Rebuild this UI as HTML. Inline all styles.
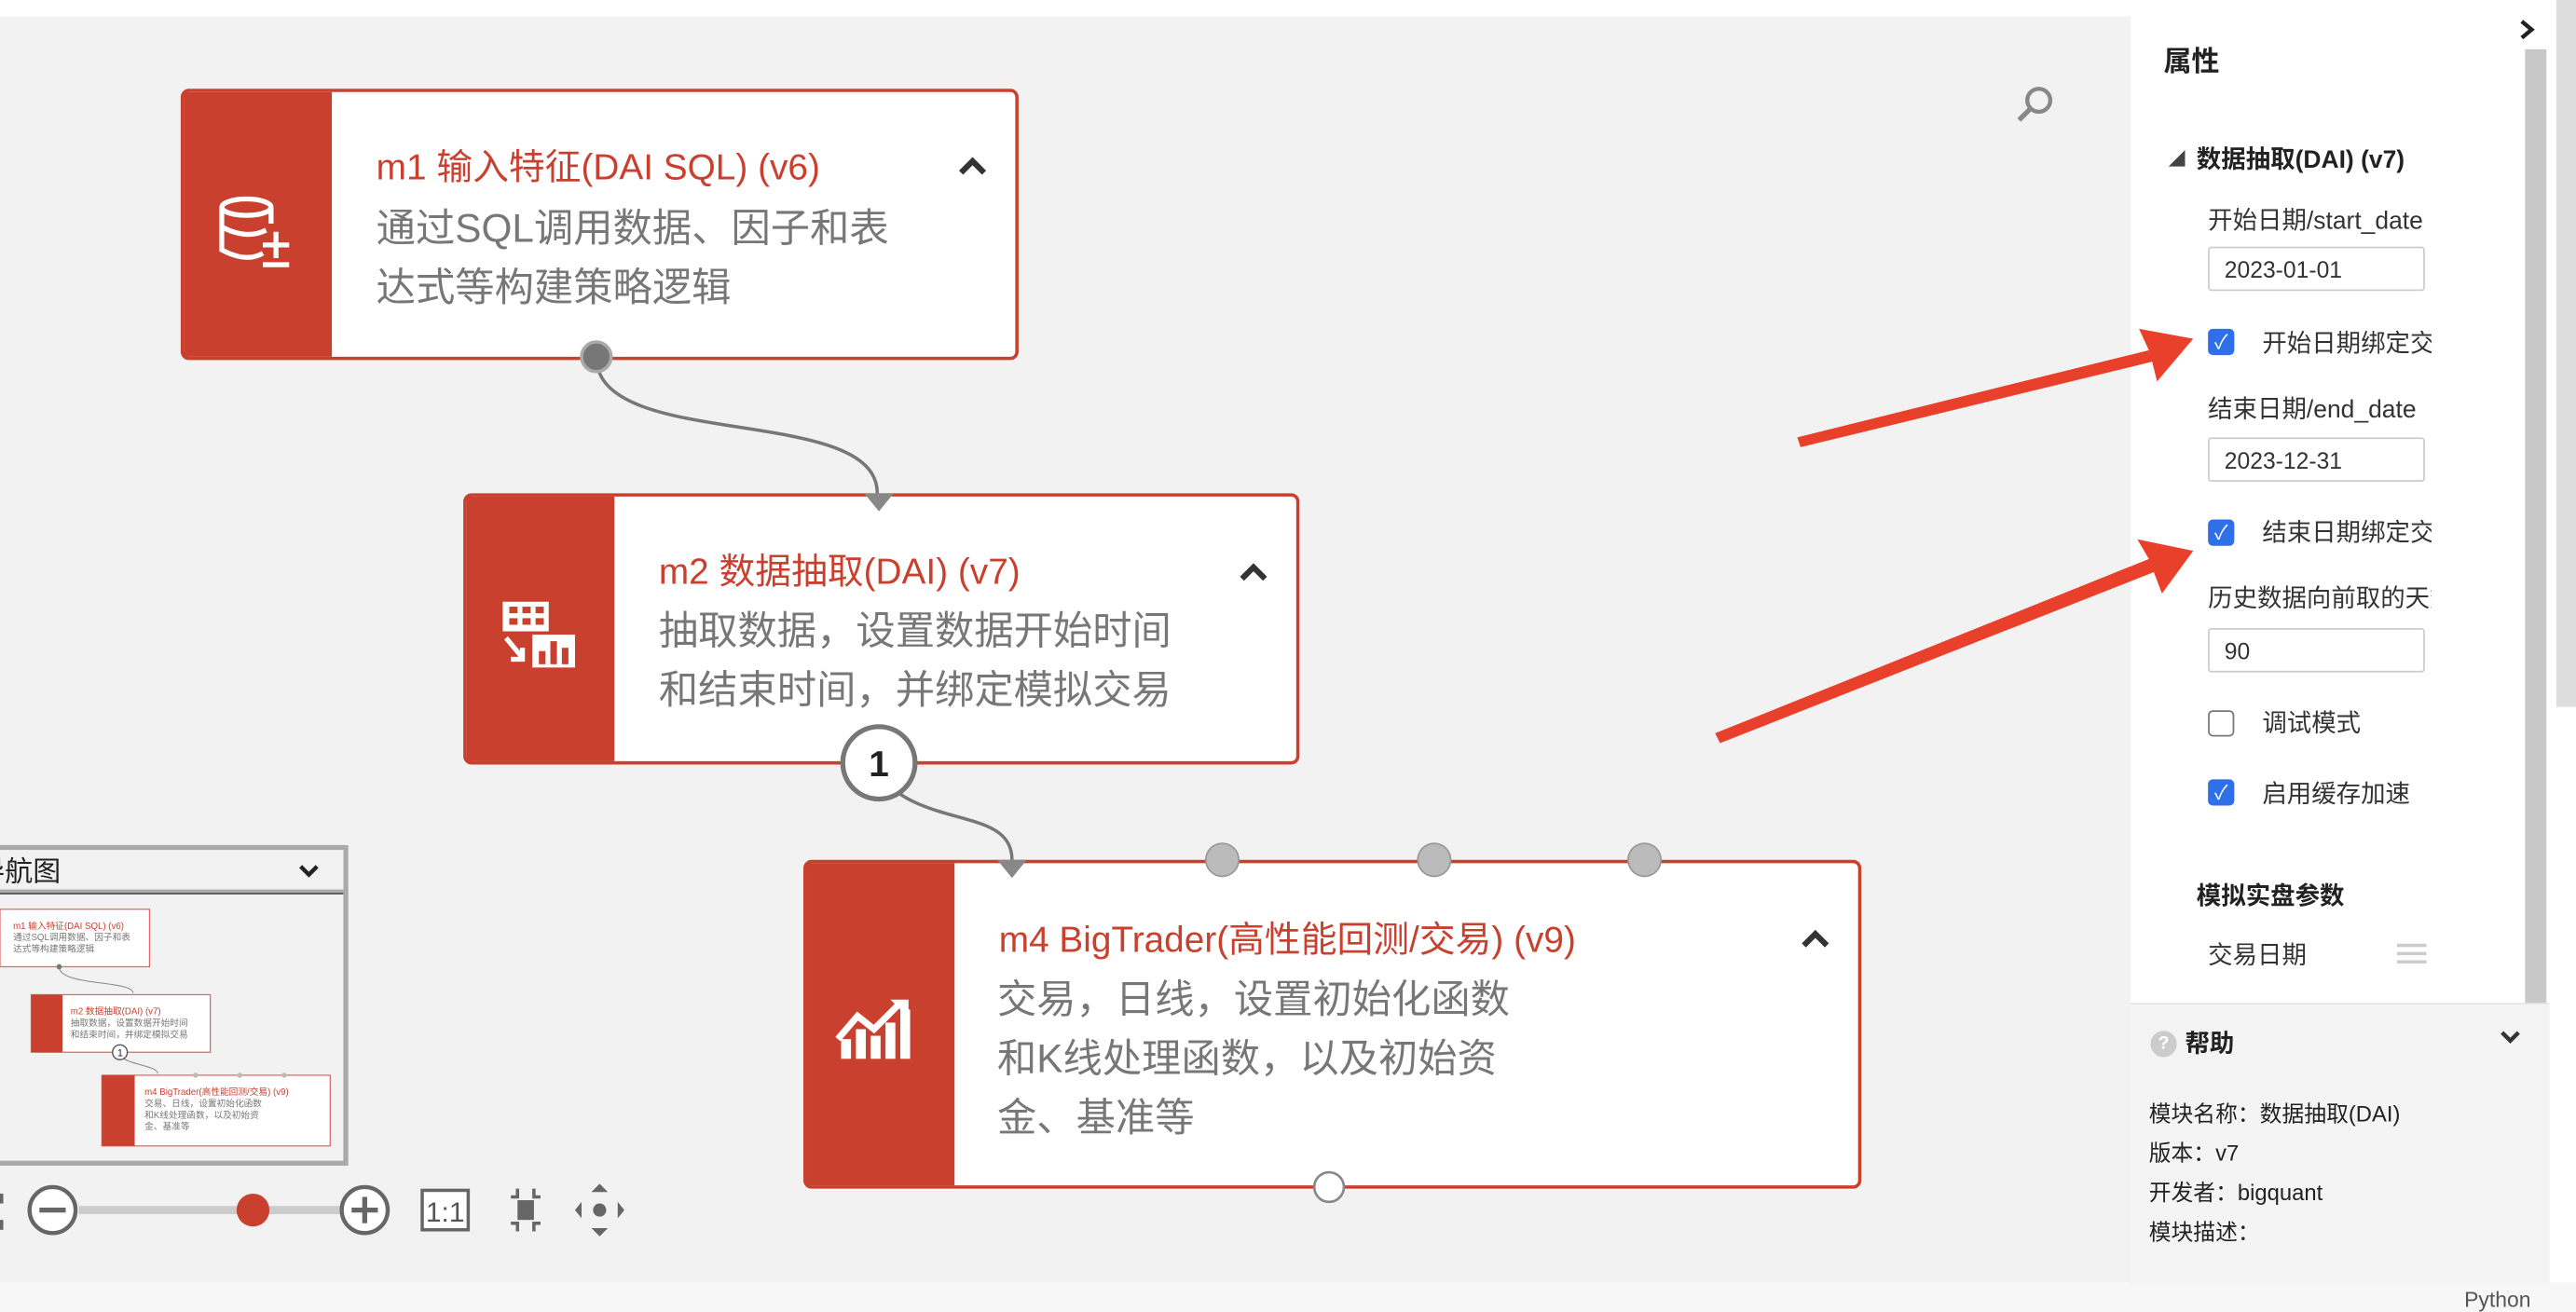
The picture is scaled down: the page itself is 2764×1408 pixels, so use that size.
<!DOCTYPE html>
<html><head><meta charset="utf-8">
<style>
html,body{margin:0;padding:0;width:2764px;height:1408px;overflow:hidden;background:#fff;}
#w{position:absolute;left:0;top:0;width:1568px;height:798px;transform:scale(1.76276,1.76441);transform-origin:0 0;font-family:"Liberation Sans","Noto Sans CJK SC",sans-serif;}
.a{position:absolute;white-space:nowrap;}
.node{position:absolute;background:#fff;border:2.5px solid #c9402f;border-radius:5px;box-sizing:border-box;}
.node .l{position:absolute;left:0;top:0;bottom:0;width:90px;background:#c9402f;}
.t{position:absolute;color:#c9402f;font-size:22px;}
.d{position:absolute;color:#777;font-size:24px;line-height:36px;}
.chev{position:absolute;}
.inp{position:absolute;left:1344px;width:132px;height:27px;border:1px solid #ccc;border-radius:2px;box-sizing:border-box;font-size:14px;color:#333;padding:5px 9px;}
.cb{position:absolute;left:1344px;width:16px;height:16px;border-radius:3px;background:#2f6fe8;color:#fff;font-size:12px;text-align:center;line-height:16px;}
</style></head><body><div id="w">
<div class="a" style="left:0;top:0;width:1297px;height:10px;background:#fff"></div>
<div class="a" style="left:0;top:10px;width:1297px;height:770px;background:#f2f2f2"></div>
<div class="a" style="left:0;top:780px;width:1568px;height:18px;background:#f7f7f7"></div>
<div class="a" style="left:1500px;top:783px;font-size:13px;color:#555">Python</div>

<svg class="a" style="left:0;top:0" width="1300" height="790">
<path d="M363 217 C363 275 534 245 534 300" stroke="#777" stroke-width="2" fill="none"/>
<path d="M534 470 C560 505 616 490 616 523" stroke="#777" stroke-width="2" fill="none"/>
<circle cx="1241" cy="61" r="7" stroke="#888" stroke-width="2.5" fill="none"/><line x1="1236" y1="66" x2="1229" y2="73" stroke="#888" stroke-width="3"/>
</svg>

<div class="node" style="left:110px;top:54px;width:510px;height:165px"><div class="l"></div></div>
<svg class="a" style="left:130px;top:118px" width="50" height="48"><ellipse cx="20" cy="8" rx="15" ry="5" fill="none" stroke="#fff" stroke-width="3"/><path d="M5 8 V34 Q20 42 30 36 M5 20 Q20 28 32 22" fill="none" stroke="#fff" stroke-width="3"/><path d="M35 8 V18" stroke="#fff" stroke-width="3"/><path d="M30 31 H46 M38 23 V39 M30 43 H46" stroke="#fff" stroke-width="3"/></svg>
<div class="t" style="left:229px;top:84px">m1 输入特征(DAI SQL) (v6)</div>
<div class="d" style="left:229px;top:122px">通过SQL调用数据、因子和表<br>达式等构建策略逻辑</div>
<svg class="chev" style="left:582px;top:94px" width="20" height="14"><path d="M3 11 L10 4 L17 11" stroke="#333" stroke-width="3.5" fill="none"/></svg>
<svg class="a" style="left:350px;top:204px" width="26" height="26"><circle cx="13" cy="13" r="9" fill="#777" stroke="#aaa" stroke-width="2"/></svg>

<div class="node" style="left:282px;top:300px;width:509px;height:165px"><div class="l"></div></div>
<svg class="a" style="left:304px;top:364px" width="50" height="44"><rect x="2" y="2" width="28" height="18" fill="#fff"/><g fill="#c9402f"><rect x="6" y="5" width="5" height="4"/><rect x="14" y="5" width="5" height="4"/><rect x="22" y="5" width="5" height="4"/><rect x="6" y="12" width="5" height="4"/><rect x="14" y="12" width="5" height="4"/><rect x="22" y="12" width="5" height="4"/></g><path d="M4 24 L14 36 M14 30 V37 H7" stroke="#fff" stroke-width="3" fill="none"/><rect x="20" y="22" width="26" height="20" fill="#fff"/><g fill="#c9402f"><rect x="24" y="32" width="4" height="8"/><rect x="31" y="26" width="4" height="14"/><rect x="38" y="30" width="4" height="10"/></g></svg>
<div class="t" style="left:401px;top:330px">m2 数据抽取(DAI) (v7)</div>
<div class="d" style="left:401px;top:367px">抽取数据，设置数据开始时间<br>和结束时间，并绑定模拟交易</div>
<svg class="chev" style="left:753px;top:341px" width="20" height="14"><path d="M3 11 L10 4 L17 11" stroke="#333" stroke-width="3.5" fill="none"/></svg>
<svg class="a" style="left:524px;top:298px" width="22" height="14"><path d="M2 2 H20 L11 13Z" fill="#888"/></svg>
<svg class="a" style="left:508px;top:437px" width="54" height="54"><circle cx="27" cy="27" r="22" fill="#fff" stroke="#777" stroke-width="3"/><text x="27" y="35" text-anchor="middle" font-size="22" font-weight="bold" font-family="Liberation Sans" fill="#222">1</text></svg>

<div class="node" style="left:489px;top:523px;width:644px;height:200px"><div class="l"></div></div>
<svg class="a" style="left:508px;top:606px" width="52" height="40"><g fill="#fff"><rect x="4" y="26" width="6" height="12"/><rect x="13" y="20" width="6" height="18"/><rect x="22" y="24" width="6" height="14"/><rect x="31" y="16" width="6" height="22"/><rect x="40" y="8" width="6" height="30"/></g><path d="M2 26 L14 12 L24 20 L40 4" stroke="#fff" stroke-width="4" fill="none"/><path d="M34 2 H45 V13Z" fill="#fff"/></svg>
<div class="t" style="left:608px;top:554px">m4 BigTrader(高性能回测/交易) (v9)</div>
<div class="d" style="left:607px;top:591px">交易，日线，设置初始化函数<br>和K线处理函数，以及初始资<br>金、基准等</div>
<svg class="chev" style="left:1095px;top:564px" width="20" height="14"><path d="M3 11 L10 4 L17 11" stroke="#333" stroke-width="3.5" fill="none"/></svg>
<svg class="a" style="left:600px;top:508px" width="420" height="30"><path d="M7 15 H25 L16 26Z" fill="#888"/><circle cx="144" cy="15" r="10" fill="#bbb" stroke="#999" stroke-width="1"/><circle cx="273" cy="15" r="10" fill="#bbb" stroke="#999" stroke-width="1"/><circle cx="401" cy="15" r="10" fill="#bbb" stroke="#999" stroke-width="1"/></svg>
<svg class="a" style="left:798px;top:711px" width="22" height="22"><circle cx="11" cy="11" r="9" fill="#fff" stroke="#888" stroke-width="1.5"/></svg>

<!-- navigator -->
<div class="a" style="left:-5px;top:514px;width:217px;height:195px;border:3px solid #aaa;box-sizing:border-box;background:#f2f2f2"></div>
<div class="a" style="left:-2px;top:517px;width:211px;height:24px;border-bottom:3px solid #aaa;background:#f2f2f2"></div>
<div class="a" style="left:0;top:543px;width:209px;height:1px;background:#555"></div>
<div class="a" style="left:-14px;top:516px;font-size:17px;color:#222">导航图</div>
<svg class="a" style="left:181px;top:524px" width="14" height="12"><path d="M2 3 L7 8 L12 3" stroke="#222" stroke-width="2.5" fill="none"/></svg>
<svg class="a" style="left:0;top:544px" width="212" height="162">
<g font-family="Liberation Sans,Noto Sans CJK SC" font-size="5.5">
<rect x="0" y="9" width="91" height="35" fill="#fff" stroke="#d66" stroke-width="0.7"/>
<text x="8" y="21" fill="#c9402f">m1 输入特征(DAI SQL) (v6)</text><text x="8" y="28" fill="#777">通过SQL调用数据、因子和表</text><text x="8" y="35" fill="#777">达式等构建策略逻辑</text>
<path d="M36 44 C36 56 81 52 81 60" stroke="#888" stroke-width="0.6" fill="none"/><circle cx="36" cy="44" r="1.6" fill="#777"/>
<rect x="19" y="61" width="109" height="35" fill="#fff" stroke="#d66" stroke-width="0.7"/><rect x="19" y="61" width="19" height="35" fill="#c9402f"/>
<text x="43" y="73" fill="#c9402f">m2 数据抽取(DAI) (v7)</text><text x="43" y="80" fill="#777">抽取数据，设置数据开始时间</text><text x="43" y="87" fill="#777">和结束时间，并绑定模拟交易</text>
<path d="M73 98 C78 104 96 104 96 109" stroke="#888" stroke-width="0.6" fill="none"/><circle cx="73" cy="96" r="4.5" fill="#fff" stroke="#555" stroke-width="0.8"/><text x="71.5" y="98.5" fill="#222" font-size="6">1</text>
<rect x="62" y="110" width="139" height="43" fill="#fff" stroke="#d66" stroke-width="0.7"/><rect x="62" y="110" width="20" height="43" fill="#c9402f"/>
<circle cx="119" cy="110" r="1.6" fill="#bbb"/><circle cx="146" cy="110" r="1.6" fill="#bbb"/><circle cx="173" cy="110" r="1.6" fill="#bbb"/>
<text x="88" y="122" fill="#c9402f">m4 BigTrader(高性能回测/交易) (v9)</text><text x="88" y="129" fill="#777">交易、日线，设置初始化函数</text><text x="88" y="136" fill="#777">和K线处理函数，以及初始资</text><text x="88" y="143" fill="#777">金、基准等</text>
</g></svg>

<!-- zoom controls -->
<svg class="a" style="left:0;top:718px" width="400" height="40">
<rect x="0" y="8" width="2" height="6" fill="#666"/><rect x="0" y="24" width="2" height="6" fill="#666"/>
<circle cx="32" cy="18" r="14" fill="#fff" stroke="#666" stroke-width="2.5"/><rect x="24" y="16.5" width="16" height="3" fill="#666"/>
<rect x="48" y="15.5" width="159" height="5" fill="#ccc"/><circle cx="154" cy="18" r="10" fill="#c9402f"/>
<circle cx="222" cy="18" r="14" fill="#fff" stroke="#666" stroke-width="2.5"/><rect x="214" y="16.5" width="16" height="3" fill="#666"/><rect x="220.5" y="10" width="3" height="16" fill="#666"/>
<rect x="257" y="6" width="28" height="24" fill="#fff" stroke="#666" stroke-width="2"/><text x="271" y="25" text-anchor="middle" font-size="17" fill="#555" font-family="Liberation Sans">1:1</text>
<path d="M311 10 h4 v-5 M325 5 v5 h4 M311 26 h4 v5 M325 31 v-5 h4" stroke="#666" stroke-width="2" fill="none"/><rect x="315" y="12" width="10" height="12" fill="#666"/>
<path d="M360 7 L365 2 L370 7Z M360 29 L365 34 L370 29Z M354 13 L350 18 L354 23Z M376 13 L380 18 L376 23Z" fill="#666"/><circle cx="365" cy="18" r="4" fill="#666"/>
</svg>

<!-- right panel -->
<div class="a" style="left:1297px;top:0;width:255px;height:610px;background:#fff"></div>
<div class="a" style="left:1297px;top:610px;width:255px;height:170px;background:#f4f4f4;border-top:1px solid #e6e6e6"></div>
<div class="a" style="left:1537px;top:30px;width:13px;height:580px;background:#c8c8c8"></div>
<div class="a" style="left:1556px;top:0;width:12px;height:430px;background:#ddd"></div>
<svg class="a" style="left:1532px;top:11px" width="12" height="14"><path d="M3 2 L9 7 L3 12" stroke="#222" stroke-width="2.5" fill="none"/></svg>
<div class="a" style="left:1317px;top:23px;font-size:17px;font-weight:bold;color:#222">属性</div>
<div class="a" style="left:1320px;top:88px;font-size:10px;color:#444">◢</div>
<div class="a" style="left:1337px;top:86px;font-size:15px;font-weight:bold;color:#222">数据抽取(DAI) (v7)</div>
<div class="a" style="left:1344px;top:123px;width:136px;overflow:hidden;font-size:15px;color:#333">开始日期/start_date</div>
<div class="inp" style="top:150px">2023-01-01</div>
<div class="cb" style="top:200px">✓</div>
<div class="a" style="left:1377px;top:198px;width:103px;overflow:hidden;font-size:15px;color:#333">开始日期绑定交易日</div>
<div class="a" style="left:1344px;top:238px;width:136px;overflow:hidden;font-size:15px;color:#333">结束日期/end_date</div>
<div class="inp" style="top:266px">2023-12-31</div>
<div class="cb" style="top:316px">✓</div>
<div class="a" style="left:1377px;top:313px;width:103px;overflow:hidden;font-size:15px;color:#333">结束日期绑定交易日</div>
<div class="a" style="left:1344px;top:353px;width:136px;overflow:hidden;font-size:15px;color:#333">历史数据向前取的天数</div>
<div class="inp" style="top:382px">90</div>
<div class="a" style="left:1344px;top:432px;width:16px;height:16px;border:1px solid #777;border-radius:3px;box-sizing:border-box"></div>
<div class="a" style="left:1377px;top:429px;font-size:15px;color:#333">调试模式</div>
<div class="cb" style="top:474px">✓</div>
<div class="a" style="left:1377px;top:472px;font-size:15px;color:#333">启用缓存加速</div>
<div class="a" style="left:1337px;top:534px;font-size:15px;font-weight:bold;color:#222">模拟实盘参数</div>
<div class="a" style="left:1344px;top:570px;font-size:15px;color:#333">交易日期</div>
<div class="a" style="left:1459px;top:574px;width:18px;height:2px;background:#ccc;box-shadow:0 5px 0 #ccc,0 10px 0 #ccc"></div>
<div class="a" style="left:1309px;top:627px;width:16px;height:16px;border-radius:50%;background:#ccc;color:#fff;font-size:11px;text-align:center;line-height:16px;font-weight:bold">?</div>
<div class="a" style="left:1330px;top:624px;font-size:15px;font-weight:bold;color:#222">帮助</div>
<svg class="a" style="left:1521px;top:626px" width="14" height="10"><path d="M2 2 L7 7 L12 2" stroke="#333" stroke-width="2.5" fill="none"/></svg>
<div class="a" style="left:1308px;top:666px;font-size:13.5px;line-height:24px;color:#222">模块名称：数据抽取(DAI)<br>版本：v7<br>开发者：bigquant<br>模块描述：</div>

<!-- arrows -->
<svg class="a" style="left:0;top:0" width="1568" height="798">
<path d="M1094 266 L1308 213 L1302 200 L1335 206 L1313 232 L1310 220 L1096 272Z" fill="#e8402a"/>
<path d="M1044 446 L1308 340 L1301 328 L1335 335 L1316 361 L1311 348 L1047 452Z" fill="#e8402a"/>
</svg>
</div></body></html>
